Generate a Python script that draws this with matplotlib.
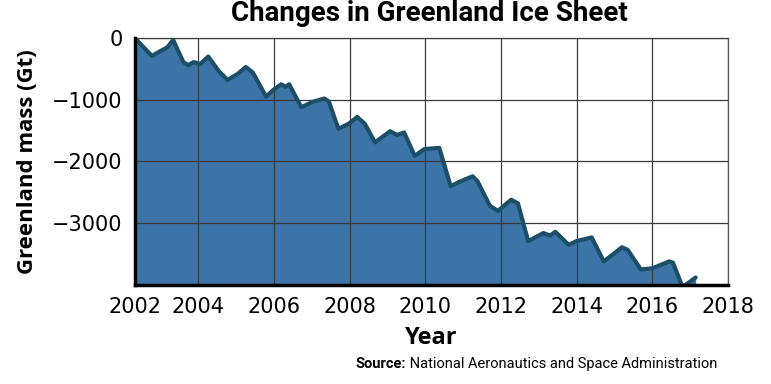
import matplotlib.pyplot as plt

# ======== data ========
years = [2002.32, 2002.55, 2002.77, 2003.04, 2003.18, 2003.33, 2003.6, 2003.73,
         2003.87, 2004.05, 2004.26, 2004.53, 2004.77, 2005.04, 2005.25, 2005.44,
         2005.79, 2006.0, 2006.19, 2006.3, 2006.4, 2006.72, 2007.04, 2007.33,
         2007.45, 2007.7, 2007.97, 2008.2, 2008.4, 2008.67, 2009.07, 2009.25,
         2009.44, 2009.72, 2009.97, 2010.15, 2010.37, 2010.67, 2010.9, 2011.25,
         2011.38, 2011.71, 2011.92, 2012.27, 2012.45, 2012.72, 2013.12, 2013.3,
         2013.44, 2013.79, 2014.0, 2014.4, 2014.72, 2015.2, 2015.35, 2015.7,
         2016.0, 2016.45, 2016.55, 2016.8, 2016.9, 2017.15]
mass = [0, -150, -290, -195, -150, -30, -390, -440,
        -390, -420, -300, -530, -680, -580, -470, -560,
        -950, -830, -750, -790, -750, -1120, -1030, -980,
        -1030, -1470, -1390, -1280, -1390, -1690, -1510, -1570,
        -1530, -1910, -1800, -1790, -1780, -2400, -2330, -2240,
        -2320, -2720, -2800, -2620, -2680, -3290, -3160, -3200,
        -3140, -3350, -3290, -3230, -3620, -3390, -3430, -3750,
        -3730, -3620, -3640, -4030, -3990, -3880]

# the printed axis starts at the first data point but is labelled 2002
xticks = [2002.32, 2004, 2006, 2008, 2010, 2012, 2014, 2016, 2018]
xtick_txt = ['2002', '2004', '2006', '2008', '2010', '2012', '2014', '2016', '2018']
yticks = [0, -1000, -2000, -3000]
ytick_txt = ['0', '\u22121000', '\u22122000', '\u22123000']

FILL = '#3d74a8'
LINE = '#1c4e68'
TICK_FONT = 'DejaVu Sans'
BOLD_FONT = ['Open Sans', 'DejaVu Sans']
NARROW = ['Roboto', 'DejaVu Sans']

fig = plt.figure(figsize=(7.71, 3.84), dpi=100)
ax = fig.add_axes([0.175, 0.258, 0.769, 0.643])

ax.fill_between(years, mass, -4000, color=FILL, lw=0, zorder=1)
ax.plot(years, mass, color=LINE, lw=3, solid_joinstyle='round',
        solid_capstyle='round', zorder=3)

ax.set_xlim(2002.32, 2018.0)
ax.set_ylim(-4000, 0)

ax.set_xticks(xticks)
ax.set_xticklabels(xtick_txt, family=TICK_FONT, fontsize=15)
ax.set_yticks(yticks)
ax.set_yticklabels(ytick_txt, family=TICK_FONT, fontsize=15)
ax.grid(True, color='#3a3a3a', lw=0.9, zorder=2)
ax.set_axisbelow(False)
ax.tick_params(axis='both', length=0)
ax.tick_params(axis='x', pad=9)
ax.tick_params(axis='y', pad=9)

for s in ['top', 'right']:
    ax.spines[s].set_color('#555555')
    ax.spines[s].set_linewidth(0.9)
for s in ['left', 'bottom']:
    ax.spines[s].set_color('black')
    ax.spines[s].set_linewidth(2.5)
    ax.spines[s].set_zorder(4)

ax.set_ylabel('Greenland mass (Gt)', family=BOLD_FONT, fontsize=16,
              fontweight='bold', labelpad=10)
ax.set_xlabel('Year', family=BOLD_FONT, fontsize=17, fontweight='bold', labelpad=6)

fig.text(0.557, 0.965, 'Changes in Greenland Ice Sheet', family=NARROW,
         fontsize=20, fontweight='bold', ha='center', va='center')

t1 = fig.text(0.461, 0.042, 'Source:', family=NARROW, fontsize=10.5,
              fontweight='bold', ha='left', va='baseline')
t2 = fig.text(0, 0.042, ' National Aeronautics and Space Administration',
              family=NARROW, fontsize=10.5, ha='left', va='baseline')
fig.canvas.draw()
bb = t1.get_window_extent()
t2.set_x(bb.x1 / fig.bbox.width)

fig.savefig('out.png', dpi=100)
